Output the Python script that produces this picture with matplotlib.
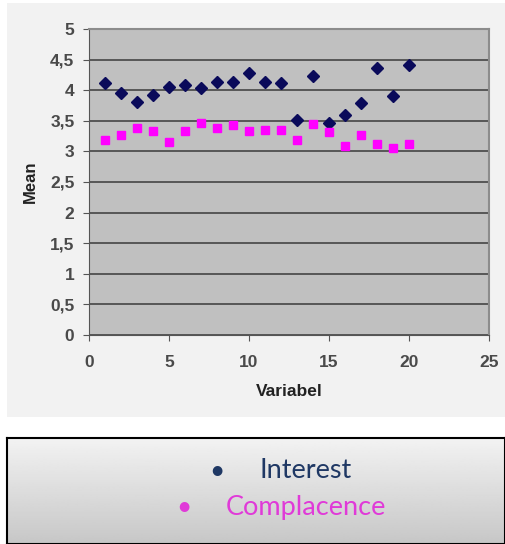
import numpy as np
import matplotlib.pyplot as plt
from matplotlib.patches import Rectangle
from matplotlib.ticker import FuncFormatter

# data
variabel = list(range(1, 21))
interest = [4.11, 3.95, 3.81, 3.92, 4.06, 4.08, 4.03, 4.13, 4.13, 4.28,
            4.13, 4.11, 3.51, 4.24, 3.47, 3.59, 3.79, 4.36, 3.90, 4.41]
complacence = [3.19, 3.26, 3.38, 3.33, 3.15, 3.33, 3.47, 3.39, 3.43, 3.33,
               3.35, 3.35, 3.18, 3.44, 3.31, 3.09, 3.26, 3.12, 3.06, 3.12]
legend_labels = ['Interest', 'Complacence']
legend_colors = ['#1f3864', '#e03ad8']

plt.rcParams['font.family'] = ['Liberation Sans', 'DejaVu Sans']

W, H = 505, 544
fig = plt.figure(figsize=(W / 100, H / 100), dpi=100)
fig.patch.set_facecolor('white')

# light grey chart panel
fig.patches.append(Rectangle((7 / W, 1 - 417 / H), 1 - 7 / W, 414 / H,
                             transform=fig.transFigure, facecolor='#f2f2f2',
                             edgecolor='none', zorder=-10))

ax = fig.add_axes([89 / W, 1 - 335 / H, 400 / W, 306 / H])
ax.set_facecolor('#c0c0c0')
ax.plot(variabel, interest, 'D', color='#0a0a5a', markersize=6.5, zorder=3)
ax.plot(variabel, complacence, 's', color='#ff00ff', markersize=6, zorder=3)

ax.set_xlim(0, 25)
ax.set_ylim(0, 5)
ax.set_xticks(np.arange(0, 26, 5))
ax.set_yticks(np.arange(0, 5.01, 0.5))
ax.yaxis.set_major_formatter(FuncFormatter(lambda v, p: ('%g' % v).replace('.', ',')))
ax.grid(axis='y', color='#3a3a3a', linewidth=1.1)
ax.set_axisbelow(True)
for s in ['top', 'right']:
    ax.spines[s].set_color('#8c8c8c')
    ax.spines[s].set_linewidth(1.5)
for s in ['left', 'bottom']:
    ax.spines[s].set_color('#555555')
ax.tick_params(direction='out', length=4.5, color='#555555', labelcolor='#4a4a4a',
               labelsize=12.5)
for lab in ax.get_xticklabels() + ax.get_yticklabels():
    lab.set_fontweight('bold')
ax.tick_params(axis='x', pad=10)
ax.tick_params(axis='y', pad=6)
ax.set_xlabel('Variabel', fontsize=12.5, fontweight='bold', color='#222222', labelpad=10)
ax.set_ylabel('Mean', fontsize=12, fontweight='bold', color='#222222', labelpad=9)

# legend box below
lax = fig.add_axes([7 / W, 0, 1 - 7 / W, 106 / H])
grad = np.linspace(0.95, 0.78, 100).reshape(-1, 1)
lax.imshow(grad, cmap='gray', vmin=0, vmax=1, aspect='auto', extent=[0, 1, 0, 1])
lax.set_xlim(0, 1)
lax.set_ylim(0, 1)
lax.set_xticks([])
lax.set_yticks([])
for s in lax.spines.values():
    s.set_color('black')
    s.set_linewidth(1.5)

fig.text(217 / W, 1 - 471 / H, '•', color=legend_colors[0], fontsize=19,
         ha='center', va='center', family='Lato')
fig.text(259 / W, 1 - 471 / H, legend_labels[0], color=legend_colors[0],
         fontsize=19.5, ha='left', va='center', family='Lato')
fig.text(184 / W, 1 - 507 / H, '•', color=legend_colors[1], fontsize=19,
         ha='center', va='center', family='Lato')
fig.text(226 / W, 1 - 507 / H, legend_labels[1], color=legend_colors[1],
         fontsize=19.5, ha='left', va='center', family='Lato')

fig.savefig('out.png', dpi=100)
